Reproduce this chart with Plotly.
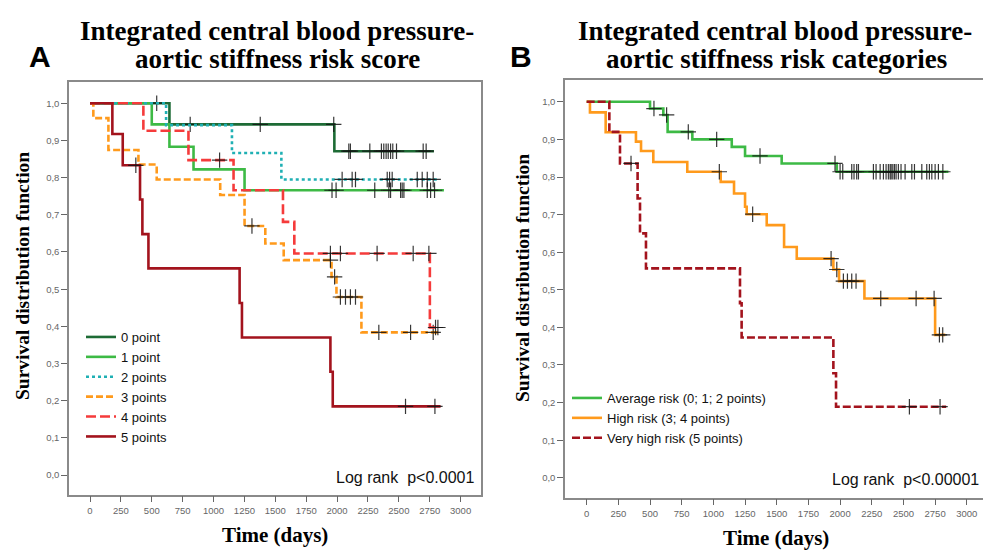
import plotly.graph_objects as go

# ---------------- DATA ----------------
# Panel A: Kaplan-Meier by risk score points
A_labels = ["0 point", "1 point", "2 points", "3 points", "4 points", "5 points"]

A0_event_t = [643, 1978]
A0_event_s = [0.943, 0.871]
A0_cens = [540, 811, 1378, 1973, 2095, 2108, 2265, 2359, 2378, 2397, 2414, 2433, 2451, 2481, 2697, 2721]
A0_end = 2784

A1_event_t = [500, 643, 838, 1251]
A1_event_s = [0.943, 0.883, 0.822, 0.766]
A1_cens = [1959, 1992, 2305, 2419, 2433, 2514, 2527, 2541, 2730, 2757, 2789]
A1_end = 2865

A2_event_t = [616, 1149, 1549]
A2_event_s = [0.941, 0.866, 0.795]
A2_cens = [2041, 2122, 2149, 2406, 2425, 2446, 2649, 2689, 2730, 2778]
A2_end = 2824

A3_event_t = [27, 149, 392, 540, 1054, 1251, 1419, 1568, 1955, 1995, 2197]
A3_event_s = [0.960, 0.874, 0.835, 0.795, 0.753, 0.670, 0.623, 0.578, 0.533, 0.479, 0.384]
A3_cens = [1311, 1946, 1980, 2027, 2068, 2108, 2149, 2338, 2595, 2778]
A3_end = 2830

A4_event_t = [432, 797, 1162, 1562, 1654, 2751]
A4_event_s = [0.926, 0.847, 0.766, 0.681, 0.596, 0.397]
A4_cens = [1049, 1946, 2027, 2324, 2616, 2743, 2797, 2816]
A4_end = 2830

A5_event_t = [181, 265, 405, 424, 473, 1211, 1230, 1946, 1965]
A5_event_s = [0.917, 0.833, 0.741, 0.648, 0.556, 0.463, 0.370, 0.278, 0.185]
A5_cens = [371, 2554, 2792]
A5_end = 2838

# Panel B: risk categories
B_labels = ["Average risk (0; 1; 2 points)", "High risk (3; 4 points)", "Very high risk (5 points)"]

B0_event_t = [500, 605, 639, 834, 1145, 1250, 1539, 1974]
B0_event_s = [0.982, 0.965, 0.920, 0.900, 0.880, 0.856, 0.836, 0.814]
B0_cens = [531, 631, 802, 1026, 1368, 1960, 2000, 2021, 2092, 2110, 2131, 2145, 2263, 2284, 2316,
           2342, 2363, 2381, 2395, 2403, 2416, 2429, 2442, 2460, 2481, 2513, 2566, 2587, 2645,
           2684, 2705, 2724, 2750, 2776, 2811]
B0_end = 2855

B1_event_t = [26, 150, 389, 429, 526, 794, 1058, 1163, 1250, 1263, 1421, 1558, 1658, 1947, 1992, 2192, 2750]
B1_event_s = [0.972, 0.919, 0.894, 0.869, 0.840, 0.814, 0.787, 0.756, 0.721, 0.701, 0.672, 0.614,
              0.583, 0.554, 0.523, 0.477, 0.380]
B1_cens = [1047, 1310, 1929, 1974, 2026, 2058, 2092, 2126, 2321, 2600, 2742, 2784, 2810]
B1_end = 2830

B2_event_t = [179, 263, 402, 421, 468, 1210, 1223, 1947, 1968]
B2_event_s = [0.920, 0.836, 0.743, 0.650, 0.557, 0.464, 0.373, 0.278, 0.189]
B2_cens = [350, 2547, 2789]
B2_end = 2837

y_tickvals = [0.0, 0.1, 0.2, 0.3, 0.4, 0.5, 0.6, 0.7, 0.8, 0.9, 1.0]
y_ticktext = ["0,0", "0,1", "0,2", "0,3", "0,4", "0,5", "0,6", "0,7", "0,8", "0,9", "1,0"]
x_tickvals = [0, 250, 500, 750, 1000, 1250, 1500, 1750, 2000, 2250, 2500, 2750, 3000]

# ---------------- HELPERS ----------------
def km_xy(et, es, end):
    xs = [0] + list(et) + [end]
    ys = [1.0] + list(es) + [es[-1]]
    return xs, ys

def surv_at(t, et, es):
    s = 1.0
    for ti, si in zip(et, es):
        if ti <= t:
            s = si
    return s

fig = go.Figure()

def add_curve(et, es, cens, end, name, color, dash, xa, ya, legend):
    xs, ys = km_xy(et, es, end)
    fig.add_trace(go.Scatter(x=xs, y=ys, mode="lines", line=dict(color=color, width=2.6, dash=dash, shape="hv"),
                             name=name, xaxis=xa, yaxis=ya, legend=legend, showlegend=True))
    fig.add_trace(go.Scatter(x=cens, y=[surv_at(c, et, es) for c in cens], mode="markers",
                             marker=dict(symbol="cross-thin", size=11, line=dict(color="rgba(20,20,20,0.85)", width=1.2)),
                             xaxis=xa, yaxis=ya, showlegend=False, hoverinfo="skip"))

A_colors = ["#1d6b35", "#3dba45", "#1fb0b4", "#ff9a1c", "#f53b3b", "#a3131d"]
A_dashes = ["solid", "solid", "3px,3px", "7px,3px", "10px,4px", "solid"]
A_sets = [(A0_event_t, A0_event_s, A0_cens, A0_end), (A1_event_t, A1_event_s, A1_cens, A1_end),
          (A2_event_t, A2_event_s, A2_cens, A2_end), (A3_event_t, A3_event_s, A3_cens, A3_end),
          (A4_event_t, A4_event_s, A4_cens, A4_end), (A5_event_t, A5_event_s, A5_cens, A5_end)]
for (et, es, c, e), lab, col, d in zip(A_sets, A_labels, A_colors, A_dashes):
    add_curve(et, es, c, e, lab, col, d, "x", "y", "legend")

B_colors = ["#3dba45", "#ff9a1c", "#a3131d"]
B_dashes = ["solid", "solid", "8px,3px"]
B_sets = [(B0_event_t, B0_event_s, B0_cens, B0_end), (B1_event_t, B1_event_s, B1_cens, B1_end),
          (B2_event_t, B2_event_s, B2_cens, B2_end)]
for (et, es, c, e), lab, col, d in zip(B_sets, B_labels, B_colors, B_dashes):
    add_curve(et, es, c, e, lab, col, d, "x2", "y2", "legend2")

W, H = 983, 551
def px(x):
    return x / W
def py(y):
    return (H - y) / H

axis_common = dict(showline=True, linecolor="#8a8a8a", linewidth=1.5, mirror=True, showgrid=False,
                   zeroline=False, ticks="outside", tickcolor="#666", ticklen=6, tickwidth=1,
                   tickfont=dict(family="Liberation Sans", size=9.5, color="#666"))

fig.update_layout(
    width=W, height=H, margin=dict(l=0, r=0, t=0, b=0),
    paper_bgcolor="white", plot_bgcolor="white",
    xaxis=dict(domain=[px(69), px(481)], range=[-170, 3165], tickvals=x_tickvals, anchor="y", **axis_common),
    yaxis=dict(domain=[py(494.5), py(82)], range=[-0.052, 1.057], tickvals=y_tickvals, ticktext=y_ticktext,
               anchor="x", **axis_common),
    xaxis2=dict(domain=[px(565), 0.9995], range=[-171, 3124], tickvals=x_tickvals, anchor="y2", **axis_common),
    yaxis2=dict(domain=[py(497.7), py(80)], range=[-0.053, 1.058], tickvals=y_tickvals, ticktext=y_ticktext,
                anchor="x2", **axis_common),
    legend=dict(x=px(81), y=py(322), xanchor="left", yanchor="top", bgcolor="rgba(0,0,0,0)",
                font=dict(family="Liberation Sans", size=13, color="#111"), itemwidth=30, tracegroupgap=0),
    legend2=dict(x=px(567), y=py(383), xanchor="left", yanchor="top", bgcolor="rgba(0,0,0,0)",
                 font=dict(family="Liberation Sans", size=13, color="#111"), itemwidth=30, tracegroupgap=0),
    showlegend=True,
)

serif = "Liberation Serif"
ann = []
def add_text(x, y, text, size, family, xanchor="center", angle=0, color="#000"):
    ann.append(dict(x=px(x), y=py(y), xref="paper", yref="paper", text=text, showarrow=False,
                    xanchor=xanchor, yanchor="middle", textangle=angle,
                    font=dict(family=family, size=size, color=color)))

add_text(277, 31, "<b>Integrated central blood pressure-</b>", 27, serif)
add_text(277, 59, "<b>aortic stiffness risk score</b>", 27, serif)
add_text(40, 57, "<b>A</b>", 30, "Liberation Sans")
add_text(775, 31, "<b>Integrated central blood pressure-</b>", 27, serif)
add_text(776, 59, "<b>aortic stiffness risk categories</b>", 27, serif)
add_text(521, 57, "<b>B</b>", 30, "Liberation Sans")
add_text(275, 535, "<b>Time (days)</b>", 21, serif)
add_text(776, 538, "<b>Time (days)</b>", 21, serif)
add_text(22, 276, "<b>Survival distribution function</b>", 19.5, serif, angle=-90)
add_text(522, 278, "<b>Survival distribution function</b>", 19.5, serif, angle=-90)
add_text(476, 477, "Log rank&nbsp; p<0.0001", 16, "Liberation Sans", xanchor="right", color="#111")
add_text(981, 479, "Log rank&nbsp; p<0.00001", 16, "Liberation Sans", xanchor="right", color="#111")
fig.update_layout(annotations=ann)

fig.write_html("out.html")
